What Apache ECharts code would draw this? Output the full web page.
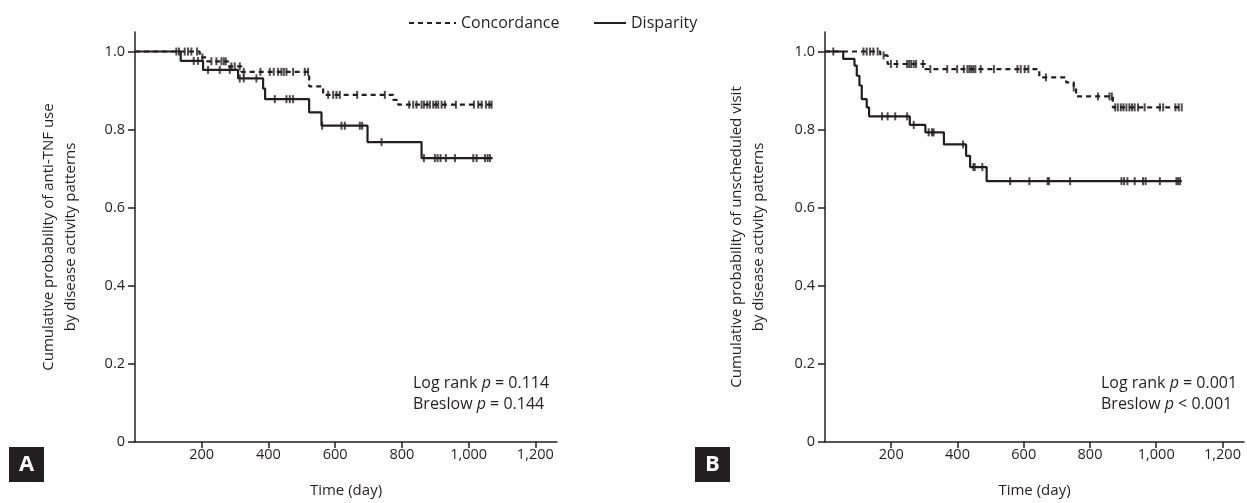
<!DOCTYPE html>
<html>
<head>
<meta charset="utf-8">
<script src="https://cdn.jsdelivr.net/npm/echarts@6/dist/echarts.min.js"></script>
<style>
html,body{margin:0;padding:0;background:#fff;}
#chart{width:1247px;height:503px;}
</style>
</head>
<body>
<div id="chart"></div>
<script>
// ---------- Data ----------
const xTickValues = [200, 400, 600, 800, 1000, 1200];
const yTickValues = [0, 0.2, 0.4, 0.6, 0.8, 1.0];

// Panel A: anti-TNF use
const aConcTimes = [0, 194, 216, 279, 319, 522, 564, 774, 789, 1074];
const aConcSurv  = [1.0, 0.985, 0.975, 0.962, 0.948, 0.911, 0.889, 0.876, 0.864, 0.864];
const aConcCensor = [124, 132, 149, 159, 169, 186, 202, 229, 244, 259, 266, 272, 289, 299, 314,
  326, 376, 404, 416, 429, 439, 446, 454, 474, 509, 519, 579, 594, 604, 614, 666, 749,
  822, 834, 844, 859, 866, 876, 884, 894, 902, 909, 919, 929, 962, 1016, 1029, 1039, 1052, 1062, 1069];

const aDispTimes = [0, 137, 204, 309, 384, 390, 522, 559, 697, 859, 1072];
const aDispSurv  = [1.0, 0.976, 0.953, 0.931, 0.905, 0.878, 0.844, 0.810, 0.768, 0.727, 0.727];
const aDispCensor = [176, 189, 219, 254, 284, 314, 326, 364, 419, 454, 464, 474,
  561, 619, 629, 674, 681, 739, 866, 899, 907, 916, 932, 959, 1014, 1024, 1049, 1057, 1064];

// Panel B: unscheduled visit
const bConcTimes = [0, 167, 189, 303, 647, 728, 751, 758, 869, 1079];
const bConcSurv  = [1.0, 0.99, 0.968, 0.955, 0.934, 0.921, 0.908, 0.885, 0.857, 0.857];
const bConcCensor = [116, 126, 136, 146, 159, 177, 199, 217, 248, 254, 260, 268, 275, 296,
  318, 369, 399, 419, 430, 436, 442, 448, 454, 470, 510, 581, 591, 603, 614, 667, 751,
  824, 859, 866, 876, 884, 893, 901, 910, 919, 927, 935, 945, 965, 1011, 1021, 1058, 1068, 1077];

const bDispTimes = [0, 55, 89, 96, 104, 111, 126, 133, 256, 303, 359, 426, 438, 488, 1077];
const bDispSurv  = [1.0, 0.981, 0.964, 0.938, 0.913, 0.878, 0.857, 0.834, 0.812, 0.793, 0.762, 0.733, 0.704, 0.668, 0.668];
const bDispCensor = [25, 172, 189, 212, 248, 268, 313, 323, 328, 417, 448, 452, 475,
  559, 617, 672, 676, 740, 895, 903, 913, 935, 960, 968, 1011, 1061, 1066, 1072];

const seriesNames = ['Concordance', 'Disparity'];
const yTitleA = 'Cumulative probability of anti-TNF use\nby disease activity patterns';
const yTitleB = 'Cumulative probability of unscheduled visit\nby disease activity patterns';
const xTitle = 'Time (day)';
const statsA = [['Log rank ', '=', '0.114'], ['Breslow ', '=', '0.144']];
const statsB = [['Log rank ', '=', '0.001'], ['Breslow ', '<', '0.001']];

// ---------- Helpers ----------
function steps(times, surv) { return times.map((t, i) => [t, surv[i]]); }
function censored(cens, times, surv) {
  return cens.map(c => {
    let k = 0;
    for (let i = 0; i < times.length; i++) if (times[i] <= c) k = i;
    return [c, surv[k]];
  });
}
const INK = '#231f20';
const FONT = '"Open Sans", "Noto Sans", sans-serif';

function xAxisCfg(gi) {
  return {
    type: 'value', gridIndex: gi, min: 0, max: 1265, interval: 200,
    name: xTitle, nameLocation: 'middle', nameGap: 41,
    nameTextStyle: { color: INK, fontSize: 15, fontFamily: FONT },
    axisLine: { show: true, onZero: false, lineStyle: { color: INK, width: 1.5 } },
    axisTick: { show: true, inside: false, length: 6, customValues: xTickValues, lineStyle: { color: INK, width: 1.5 } },
    axisLabel: { customValues: xTickValues, margin: 5, color: INK, fontSize: 14.5, fontFamily: FONT,
      formatter: v => String(v).replace(/\B(?=(\d{3})+(?!\d))/g, ',') },
    splitLine: { show: false }
  };
}
function yAxisCfg(gi) {
  return {
    type: 'value', gridIndex: gi, min: 0, max: 1.05, interval: 0.2,
    axisLine: { show: true, onZero: false, lineStyle: { color: INK, width: 1.5 } },
    axisTick: { show: true, inside: false, length: 7, customValues: yTickValues, lineStyle: { color: INK, width: 1.5 } },
    axisLabel: { customValues: yTickValues, margin: 10, color: INK, fontSize: 14.5, fontFamily: FONT,
      formatter: v => v === 0 ? '0' : v.toFixed(1) },
    splitLine: { show: false }
  };
}
function lineSeries(name, gi, data, dashed) {
  return {
    name: name, type: 'line', step: 'end', xAxisIndex: gi, yAxisIndex: gi,
    data: data, symbol: 'none', showSymbol: false,
    lineStyle: { color: INK, width: 2.2, type: dashed ? [5, 4] : 'solid' },
    itemStyle: { color: INK }, z: 3
  };
}
function markSeries(name, gi, data) {
  return {
    name: name, type: 'scatter', xAxisIndex: gi, yAxisIndex: gi, data: data,
    symbol: 'rect', symbolSize: [2, 8], itemStyle: { color: INK }, z: 4, silent: true
  };
}
function statText(x, y, parts) {
  return {
    type: 'text', left: x, top: y,
    style: {
      text: '{n|' + parts[0] + '}{i|p}{n| ' + parts[1] + ' ' + parts[2] + '}',
      rich: {
        n: { fontSize: 16, fontFamily: FONT, fill: INK },
        i: { fontSize: 16, fontFamily: FONT, fontStyle: 'italic', fill: INK }
      }
    }
  };
}
function panelLabel(x, y, letter) {
  return [
    { type: 'rect', shape: { x: x, y: y, width: 35, height: 35 }, style: { fill: INK } },
    { type: 'text', x: x + 17.5, y: y + 18,
      style: { text: letter, fill: '#fff', font: 'bold 22px ' + FONT, textAlign: 'center', textVerticalAlign: 'middle' } }
  ];
}
function yTitle(x, y, txt) {
  return { type: 'text', x: x, y: y, rotation: Math.PI / 2,
    style: { text: txt, fill: INK, fontSize: 15, fontFamily: FONT, lineHeight: 22,
      textAlign: 'center', textVerticalAlign: 'middle' } };
}
const legendCommon = { top: 10, itemHeight: 14, itemGap: 0,
  itemStyle: { opacity: 0 }, textStyle: { color: INK, fontSize: 16, fontFamily: FONT } };

const chart = echarts.init(document.getElementById('chart'));
chart.setOption({
  animation: false,
  backgroundColor: '#fff',
  grid: [
    { left: 135, top: 32, width: 422, bottom: 59.5 },
    { left: 825, top: 32, width: 419, bottom: 59.5 }
  ],
  legend: [
    Object.assign({}, legendCommon, { data: [seriesNames[0]], left: 403, itemWidth: 47 }),
    Object.assign({}, legendCommon, { data: [seriesNames[1]], left: 588, itemWidth: 32 })
  ],
  xAxis: [xAxisCfg(0), xAxisCfg(1)],
  yAxis: [yAxisCfg(0), yAxisCfg(1)],
  series: [
    lineSeries(seriesNames[0], 0, steps(aConcTimes, aConcSurv), true),
    lineSeries(seriesNames[1], 0, steps(aDispTimes, aDispSurv), false),
    markSeries('Concordance censored A', 0, censored(aConcCensor, aConcTimes, aConcSurv)),
    markSeries('Disparity censored A', 0, censored(aDispCensor, aDispTimes, aDispSurv)),
    lineSeries(seriesNames[0], 1, steps(bConcTimes, bConcSurv), true),
    lineSeries(seriesNames[1], 1, steps(bDispTimes, bDispSurv), false),
    markSeries('Concordance censored B', 1, censored(bConcCensor, bConcTimes, bConcSurv)),
    markSeries('Disparity censored B', 1, censored(bDispCensor, bDispTimes, bDispSurv))
  ],
  graphic: [
    yTitle(60, 237, yTitleA),
    yTitle(748, 237, yTitleB),
    statText(413, 375, statsA[0]),
    statText(413, 396, statsA[1]),
    statText(1101, 375, statsB[0]),
    statText(1101, 396, statsB[1]),
    ...panelLabel(9, 447, 'A'),
    ...panelLabel(695, 447, 'B')
  ]
});
</script>
</body>
</html>
